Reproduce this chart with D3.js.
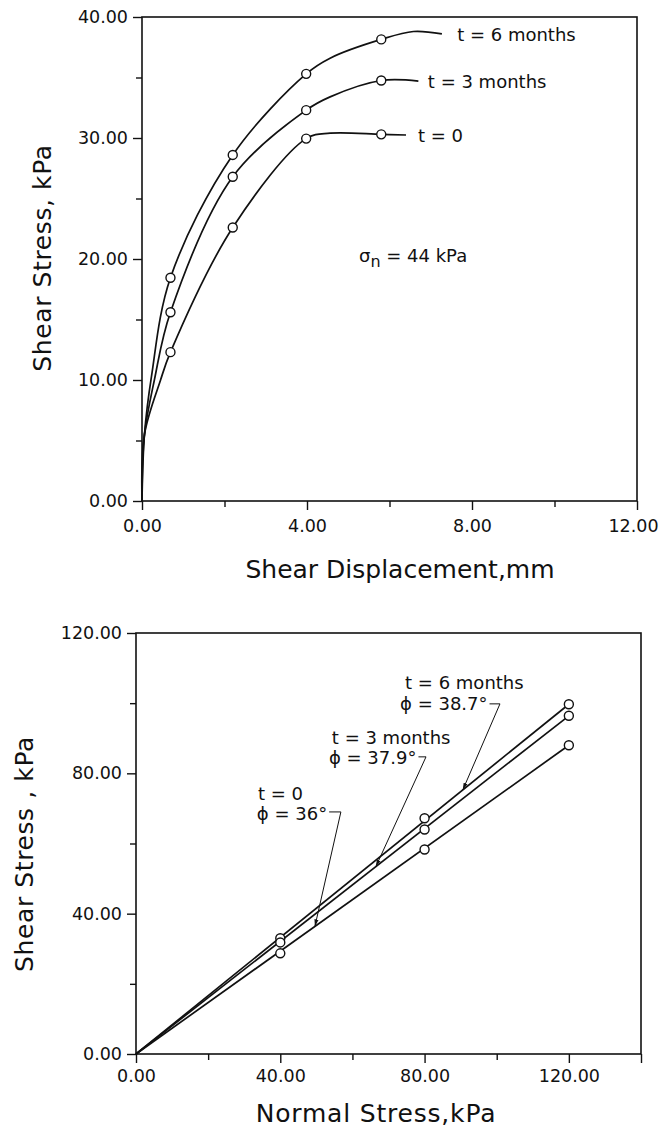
<!DOCTYPE html>
<html>
<head>
<meta charset="utf-8">
<script src="https://cdn.jsdelivr.net/npm/d3@7"></script>
<style>
  body { margin: 0; background: #fff; }
  text { font-family: "DejaVu Sans", sans-serif; fill: #111; }
</style>
</head>
<body>
<div id="canvas"></div>
<script>
// ---- data ----
// top: shear stress vs shear displacement (sigma_n = 44 kPa)
var dispTicks = [0, 4, 8, 12];
var dispMinor = [2, 6, 10];
var tauTicks = [0, 10, 20, 30, 40];
var tauMinor = [5, 15, 25, 35];

// measured points (circles)
var dispPts = [0.69, 2.2, 3.98, 5.8];
var tau6 = [18.45, 28.6, 35.3, 38.15];
var tau3 = [15.6, 26.8, 32.3, 34.75];
var tau0 = [12.3, 22.6, 29.95, 30.3];

// hand drawn curves through the points
var curve6 = [[0, 0], [0.06, 5.5], [0.23, 10.3], [0.69, 18.45], [2.2, 28.6], [3.98, 35.3], [4.56, 36.6], [5.8, 38.15], [6.58, 38.8], [7.27, 38.6]];
var curve3 = [[0, 0], [0.06, 5.5], [0.3, 10], [0.69, 15.6], [2.2, 26.8], [3.98, 32.3], [4.56, 33.4], [5.8, 34.75], [6.7, 34.7]];
var curve0 = [[0, 0], [0.06, 5.5], [0.45, 10], [0.69, 12.3], [2.2, 22.6], [3.98, 29.95], [4.56, 30.4], [5.8, 30.3], [6.4, 30.25]];

// bottom: shear stress vs normal stress
var normTicks = [0, 40, 80, 120, 140];
var normMinor = [20, 60, 100];
var shearTicks = [0, 40, 80, 120];
var shearMinor = [20, 60, 100];
var normPts = [40, 80, 120];
var shear6 = [33.0, 67.2, 99.7];
var shear3 = [31.8, 64.0, 96.4];
var shear0 = [28.7, 58.3, 88.0];
var phiLabels = ["38.7", "37.9", "36"];

var svg = d3.select("#canvas").append("svg")
    .attr("width", 661)
    .attr("height", 1129);

var fmt = d3.format(".2f");

function drawAxes(x, y, xt, xm, yt, ym, xpad) {
    var x0 = x.range()[0], x1 = x.range()[1];
    var y0 = y.range()[0], y1 = y.range()[1];

    svg.append("rect")
        .attr("x", x0).attr("y", y1)
        .attr("width", x1 - x0).attr("height", y0 - y1)
        .attr("fill", "none").attr("stroke", "#111").attr("stroke-width", 1.6);

    var gx = svg.append("g").attr("transform", `translate(0,${y0})`)
        .call(d3.axisBottom(x).tickValues(xt).tickSize(9).tickSizeOuter(0).tickPadding(xpad)
            .tickFormat(d => d === 140 ? "" : fmt(d)));
    var gxm = svg.append("g").attr("transform", `translate(0,${y0})`)
        .call(d3.axisBottom(x).tickValues(xm).tickSize(6).tickSizeOuter(0).tickFormat(""));
    var gy = svg.append("g").attr("transform", `translate(${x0},0)`)
        .call(d3.axisLeft(y).tickValues(yt).tickSize(9).tickSizeOuter(0).tickPadding(5).tickFormat(fmt));
    var gym = svg.append("g").attr("transform", `translate(${x0},0)`)
        .call(d3.axisLeft(y).tickValues(ym).tickSize(6).tickSizeOuter(0).tickFormat(""));

    [gx, gxm, gy, gym].forEach(g => {
        g.select(".domain").remove();
        g.selectAll("line").attr("stroke", "#111").attr("stroke-width", 1.4);
        g.selectAll("text").style("font-size", "17.5px")
            .style("font-family", "DejaVu Sans, sans-serif").attr("fill", "#111");
    });
    return gx;
}

function dots(x, y, xs, ys) {
    svg.append("g").selectAll("circle")
        .data(xs.map((d, i) => [d, ys[i]]))
        .join("circle")
        .attr("cx", d => x(d[0]))
        .attr("cy", d => y(d[1]))
        .attr("r", 4.5)
        .attr("fill", "#fff")
        .attr("stroke", "#111")
        .attr("stroke-width", 1.4);
}

// ================= top chart =================
var xTop = d3.scaleLinear().domain([0, 12]).range([142, 637]);
var yTop = d3.scaleLinear().domain([0, 40]).range([501, 17]);

var gxTop = drawAxes(xTop, yTop, dispTicks, dispMinor, tauTicks, tauMinor, 10);
// last label sits against the page edge
gxTop.selectAll(".tick text").filter(d => d === 12).attr("dx", -4);

var curveLine = d3.line()
    .x(d => xTop(d[0]))
    .y(d => yTop(d[1]))
    .curve(d3.curveCatmullRom.alpha(0.5));

[curve6, curve3, curve0].forEach(c => {
    svg.append("path")
        .attr("d", curveLine(c))
        .attr("fill", "none")
        .attr("stroke", "#111")
        .attr("stroke-width", 1.7);
});
dots(xTop, yTop, dispPts, tau6);
dots(xTop, yTop, dispPts, tau3);
dots(xTop, yTop, dispPts, tau0);

// curve labels
var topLabels = [
    {t: "t = 6 months", x: 7.64, y: 37.98},
    {t: "t = 3 months", x: 6.93, y: 34.13},
    {t: "t = 0", x: 6.69, y: 29.63}
];
svg.append("g").selectAll("text")
    .data(topLabels)
    .join("text")
    .attr("x", d => xTop(d.x))
    .attr("y", d => yTop(d.y))
    .style("font-size", "18px")
    .text(d => d.t);

var sig = svg.append("text")
    .attr("x", xTop(5.26))
    .attr("y", yTop(19.78))
    .style("font-size", "18px");
sig.append("tspan").text("σ");
sig.append("tspan").attr("dy", 5).style("font-size", "16px").text("n");
sig.append("tspan").attr("dy", -5).text(" = 44  kPa");

// axis titles
svg.append("text")
    .attr("x", 400).attr("y", 578)
    .attr("text-anchor", "middle")
    .style("font-size", "25px")
    .text("Shear Displacement,mm");

svg.append("text")
    .attr("transform", "translate(51,258) rotate(-90)")
    .attr("text-anchor", "middle")
    .style("font-size", "25px")
    .style("letter-spacing", "0.6px")
    .text("Shear Stress, kPa");

// ================= bottom chart =================
var xBot = d3.scaleLinear().domain([0, 140]).range([136, 641]);
var yBot = d3.scaleLinear().domain([0, 120]).range([1054, 633]);

drawAxes(xBot, yBot, normTicks, normMinor, shearTicks, shearMinor, 7);

var series = [shear6, shear3, shear0];
series.forEach(s => {
    svg.append("line")
        .attr("x1", xBot(0)).attr("y1", yBot(0))
        .attr("x2", xBot(normPts[2])).attr("y2", yBot(s[2]))
        .attr("stroke", "#111")
        .attr("stroke-width", 1.7);
});
series.forEach(s => dots(xBot, yBot, normPts, s));

// leader labels (positions in data units)
var leaders = [
    {t: "t = 6 months", phi: phiLabels[0], tx: 74.6, ty: 104.0, px: 73.2, py: 98.1, ex: 100.9, ey: 99.8, ax: 90.6, s: 0},
    {t: "t = 3 months", phi: phiLabels[1], tx: 54.3, ty: 88.4, px: 53.5, py: 82.7, ex: 80.4, ey: 84.7, ax: 66.5, s: 1},
    {t: "t = 0", phi: phiLabels[2], tx: 33.8, ty: 72.4, px: 33.5, py: 66.7, ex: 56.8, ey: 69.0, ax: 49.6, s: 2}
];

svg.append("defs").append("marker")
    .attr("id", "arr")
    .attr("viewBox", "0 0 10 10")
    .attr("refX", 10).attr("refY", 5)
    .attr("markerWidth", 7).attr("markerHeight", 7)
    .attr("orient", "auto")
    .append("path")
    .attr("d", "M0,2 L10,5 L0,8 Z")
    .attr("fill", "#111");

leaders.forEach(d => {
    svg.append("text")
        .attr("x", xBot(d.tx)).attr("y", yBot(d.ty))
        .style("font-size", "18px")
        .text(d.t);
    var ptxt = svg.append("text")
        .attr("x", xBot(d.px)).attr("y", yBot(d.py))
        .style("font-size", "18px")
        .text("ϕ = " + d.phi + "°");
    var bb = ptxt.node().getBBox();
    var slope = series[d.s][2] / normPts[2];
    var ly = yBot(d.ey);
    svg.append("path")
        .attr("d", `M${bb.x + bb.width + 2},${ly} L${xBot(d.ex)},${ly} L${xBot(d.ax)},${yBot(d.ax * slope)}`)
        .attr("fill", "none")
        .attr("stroke", "#111")
        .attr("stroke-width", 1)
        .attr("marker-end", "url(#arr)");
});

svg.append("text")
    .attr("x", 376).attr("y", 1122)
    .attr("text-anchor", "middle")
    .style("font-size", "25px")
    .style("letter-spacing", "0.8px")
    .text("Normal Stress,kPa");

svg.append("text")
    .attr("transform", "translate(33,854) rotate(-90)")
    .attr("text-anchor", "middle")
    .style("font-size", "25px")
    .style("letter-spacing", "0.6px")
    .text("Shear Stress , kPa");
</script>
</body>
</html>
